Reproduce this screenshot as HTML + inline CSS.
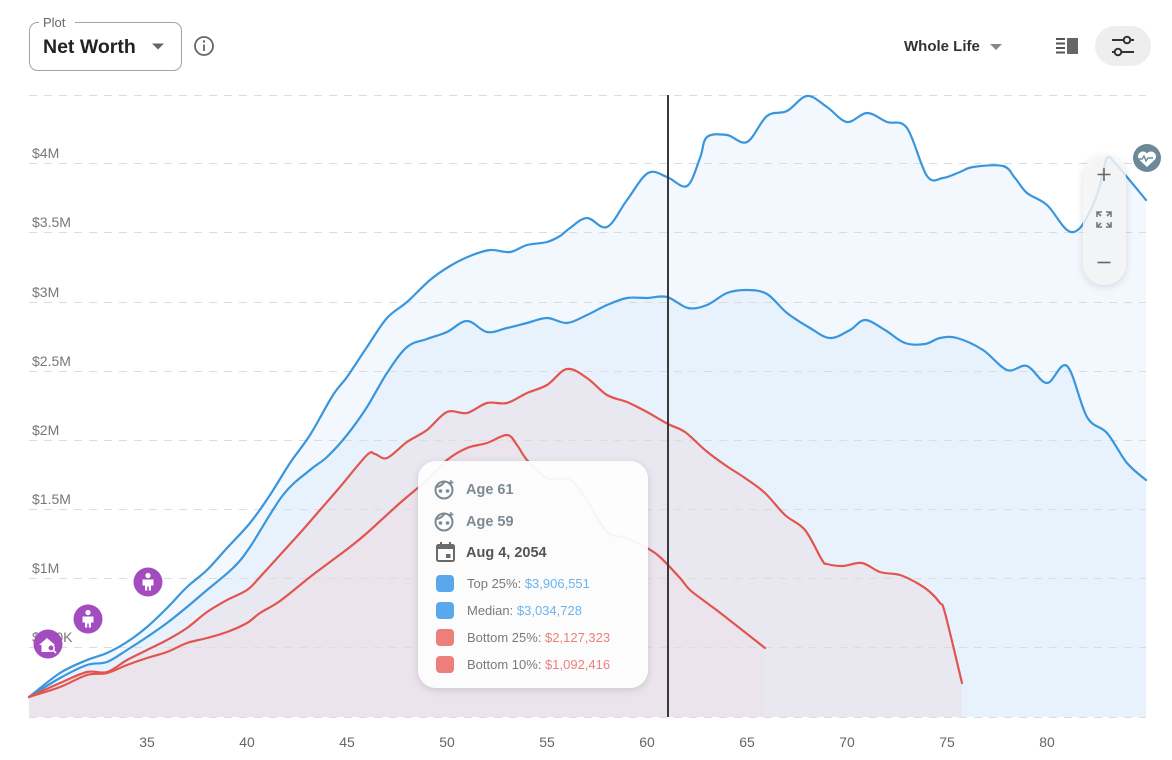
<!DOCTYPE html>
<html><head><meta charset="utf-8">
<style>
html,body{margin:0;padding:0;background:#fff;}
body{width:1172px;height:760px;overflow:hidden;font-family:"Liberation Sans",sans-serif;}
svg{display:block}
</style></head>
<body>
<svg id="chart" width="1172" height="760" viewBox="0 0 1172 760" xmlns="http://www.w3.org/2000/svg" font-family="Liberation Sans, sans-serif">
<defs>
<filter id="sh" x="-20%" y="-20%" width="140%" height="140%">
<feDropShadow dx="0" dy="2" stdDeviation="4" flood-color="#000" flood-opacity="0.15"/>
</filter>
</defs>

<!-- fills -->
<polygon class="sm" fill="#f2f8fe" points="29,717 29,697 60,673 87,660 107,653 127,642 147,627 167,608 187,587 207,570 227,548 250,523 270,495 290,463 310,435 333,395 347,377 367,347 387,318 407,302 430,280 450,266 470,256 490,250 510,252 527,245 547,242 560,236 570,228 587,218 607,227 627,200 648,173 667,177 687,186 700,158 707,137 727,135 747,142 767,116 787,111 807,96 827,107 847,122 867,113 887,122 907,128 927,176 943,178 960,172 973,167 1003,166 1015,178 1027,193 1047,205 1067,230 1080,228 1093,205 1100,185 1107,158 1115,163 1127,177 1146,200 1146,717"/>
<polygon class="sm" fill="#e8f2fd" points="29,717 29,697 60,678 87,665 107,662 127,650 147,637 167,623 187,607 207,590 233,568 250,547 283,495 310,470 327,457 347,435 367,407 387,373 407,347 427,339 447,332 467,321 487,332 507,328 527,323 547,318 567,323 587,315 607,305 627,298 647,298 667,297 688,308 707,305 727,293 747,290 767,294 787,313 810,328 830,338 850,330 865,320 885,330 905,343 925,344 940,338 957,338 983,350 1007,370 1027,366 1047,383 1067,366 1087,417 1107,433 1127,463 1146,480 1146,717"/>
<polygon class="sm" fill="#e9e8f1" points="29,717 29,697 60,683 87,672 107,672 127,660 147,650 167,640 187,628 207,612 227,600 247,590 260,577 280,555 300,533 320,510 340,487 367,455 375,454 387,458 407,442 427,430 447,412 467,413 487,403 507,403 527,393 547,385 567,369 587,378 607,395 627,402 647,412 668,424 685,432 705,450 725,465 745,478 765,493 785,515 805,530 822,560 827,564 843,566 862,563 880,572 900,575 917,583 930,592 940,603 945,613 962,683 962,717"/>
<polygon class="sm" fill="#ebe4ed" points="29,717 29,697 60,687 87,675 107,673 127,665 147,658 167,652 187,643 207,638 227,632 247,623 260,613 280,601 310,577 330,562 350,547 367,533 400,503 427,480 447,460 467,448 487,443 507,435 517,445 527,460 547,478 570,480 587,500 607,532 627,538 647,548 660,557 680,578 690,590 707,603 723,615 765,648 765,717"/>

<!-- grid -->
<g stroke="#dcdcdc" stroke-width="1" stroke-dasharray="8,7">
<line x1="29" y1="95.5" x2="1146" y2="95.5"/>
<line x1="29" y1="163.5" x2="1146" y2="163.5"/>
<line x1="29" y1="232.5" x2="1146" y2="232.5"/>
<line x1="29" y1="302.5" x2="1146" y2="302.5"/>
<line x1="29" y1="371.5" x2="1146" y2="371.5"/>
<line x1="29" y1="440.5" x2="1146" y2="440.5"/>
<line x1="29" y1="509.5" x2="1146" y2="509.5"/>
<line x1="29" y1="578.5" x2="1146" y2="578.5"/>
<line x1="29" y1="647.5" x2="1146" y2="647.5"/>
<line x1="29" y1="717.5" x2="1146" y2="717.5"/>
</g>

<!-- y labels -->
<g font-size="14" fill="#777">
<text x="32" y="158">$4M</text>
<text x="32" y="227">$3.5M</text>
<text x="32" y="297">$3M</text>
<text x="32" y="366">$2.5M</text>
<text x="32" y="435">$2M</text>
<text x="32" y="504">$1.5M</text>
<text x="32" y="573">$1M</text>
<text x="32" y="642">$500K</text>
</g>

<!-- lines -->
<g fill="none" stroke-width="2.2" stroke-linejoin="round" stroke-linecap="round">
<polyline class="sm" stroke="#3a96dc" points="29,697 60,673 87,660 107,653 127,642 147,627 167,608 187,587 207,570 227,548 250,523 270,495 290,463 310,435 333,395 347,377 367,347 387,318 407,302 430,280 450,266 470,256 490,250 510,252 527,245 547,242 560,236 570,228 587,218 607,227 627,200 648,173 667,177 687,186 700,158 707,137 727,135 747,142 767,116 787,111 807,96 827,107 847,122 867,113 887,122 907,128 927,176 943,178 960,172 973,167 1003,166 1015,178 1027,193 1047,205 1067,230 1080,228 1093,205 1100,185 1107,158 1115,163 1127,177 1146,200"/>
<polyline class="sm" stroke="#3a96dc" points="29,697 60,678 87,665 107,662 127,650 147,637 167,623 187,607 207,590 233,568 250,547 283,495 310,470 327,457 347,435 367,407 387,373 407,347 427,339 447,332 467,321 487,332 507,328 527,323 547,318 567,323 587,315 607,305 627,298 647,298 667,297 688,308 707,305 727,293 747,290 767,294 787,313 810,328 830,338 850,330 865,320 885,330 905,343 925,344 940,338 957,338 983,350 1007,370 1027,366 1047,383 1067,366 1087,417 1107,433 1127,463 1146,480"/>
<polyline class="sm" stroke="#e2554f" points="29,697 60,683 87,672 107,672 127,660 147,650 167,640 187,628 207,612 227,600 247,590 260,577 280,555 300,533 320,510 340,487 367,455 375,454 387,458 407,442 427,430 447,412 467,413 487,403 507,403 527,393 547,385 567,369 587,378 607,395 627,402 647,412 668,424 685,432 705,450 725,465 745,478 765,493 785,515 805,530 822,560 827,564 843,566 862,563 880,572 900,575 917,583 930,592 940,603 945,613 962,683"/>
<polyline class="sm" stroke="#e2554f" points="29,697 60,687 87,675 107,673 127,665 147,658 167,652 187,643 207,638 227,632 247,623 260,613 280,601 310,577 330,562 350,547 367,533 400,503 427,480 447,460 467,448 487,443 507,435 517,445 527,460 547,478 570,480 587,500 607,532 627,538 647,548 660,557 680,578 690,590 707,603 723,615 765,648"/>
</g>

<!-- vertical marker -->
<line x1="668" y1="95" x2="668" y2="717" stroke="#3a3a3a" stroke-width="2"/>

<!-- x labels -->
<g font-size="14" fill="#666" text-anchor="middle">
<text x="147" y="747">35</text>
<text x="247" y="747">40</text>
<text x="347" y="747">45</text>
<text x="447" y="747">50</text>
<text x="547" y="747">55</text>
<text x="647" y="747">60</text>
<text x="747" y="747">65</text>
<text x="847" y="747">70</text>
<text x="947" y="747">75</text>
<text x="1047" y="747">80</text>
</g>

<!-- purple event icons -->
<g>
<circle cx="148" cy="582" r="14.5" fill="#a34cc0"/>
<circle cx="148" cy="575.5" r="2.6" fill="#fff"/>
<path d="M142.5,579.5 h11 v6 h-2.5 v5 h-2.2 v-4 h-1.6 v4 h-2.2 v-5 h-2.5 z" fill="#fff"/>
<circle cx="88" cy="619" r="14.5" fill="#a34cc0"/>
<circle cx="88" cy="612.5" r="2.6" fill="#fff"/>
<path d="M82.5,616.5 h11 v6 h-2.5 v5 h-2.2 v-4 h-1.6 v4 h-2.2 v-5 h-2.5 z" fill="#fff"/>
<circle cx="48" cy="644" r="14.5" fill="#a34cc0"/>
<path d="M39,645 l8,-7 l8,7 h-2.5 v7 h-11 v-7 z" fill="#fff"/>
<circle cx="51" cy="648" r="3.2" fill="#a34cc0" stroke="#fff" stroke-width="1.5"/>
<line x1="53.3" y1="650.3" x2="56" y2="653" stroke="#fff" stroke-width="1.6"/>
</g>

<!-- tooltip -->
<g>
<rect x="418" y="461" width="230" height="227" rx="18" fill="#ffffff" fill-opacity="0.93" filter="url(#sh)"/>
<g stroke="#7b8a93" stroke-width="2" fill="none">
<circle cx="444" cy="490" r="8.5"/>
<path d="M437,487 q5,-1 8,-6"/>
<circle cx="440.5" cy="491" r="0.8" fill="#7b8a93"/>
<circle cx="447.5" cy="491" r="0.8" fill="#7b8a93"/>
<path d="M451,480 v5 M448.5,482.5 h5" stroke-width="1.5"/>
</g>
<g stroke="#7b8a93" stroke-width="2" fill="none">
<circle cx="444" cy="522" r="8.5"/>
<path d="M437,519 q5,-1 8,-6"/>
<circle cx="440.5" cy="523" r="0.8" fill="#7b8a93"/>
<circle cx="447.5" cy="523" r="0.8" fill="#7b8a93"/>
<path d="M451,512 v5 M448.5,514.5 h5" stroke-width="1.5"/>
</g>
<g font-size="14.5" font-weight="bold" fill="#7b8a93">
<text x="466" y="494">Age 61</text>
<text x="466" y="526">Age 59</text>
</g>
<g fill="#6a6a6a">
<rect x="437" y="545" width="17" height="16" rx="1.5" fill="none" stroke="#6a6a6a" stroke-width="2"/>
<rect x="437" y="545" width="17" height="4"/>
<rect x="440" y="542" width="2" height="4"/>
<rect x="449" y="542" width="2" height="4"/>
<rect x="446" y="554" width="4.5" height="4"/>
</g>
<text x="466" y="557" font-size="14.5" font-weight="bold" fill="#555">Aug 4, 2054</text>
<rect x="436" y="575" width="18" height="17" rx="4" fill="#5aa8ec"/>
<rect x="436" y="602" width="18" height="17" rx="4" fill="#5aa8ec"/>
<rect x="436" y="629" width="18" height="17" rx="4" fill="#ec7f79"/>
<rect x="436" y="656" width="18" height="17" rx="4" fill="#ec7f79"/>
<g font-size="13" fill="#7a7a7a">
<text x="467" y="588">Top 25%: <tspan fill="#6ab4ee">$3,906,551</tspan></text>
<text x="467" y="615">Median: <tspan fill="#6ab4ee">$3,034,728</tspan></text>
<text x="467" y="642">Bottom 25%: <tspan fill="#ea827c">$2,127,323</tspan></text>
<text x="467" y="669">Bottom 10%: <tspan fill="#ea827c">$1,092,416</tspan></text>
</g>
</g>

<!-- zoom control -->
<g>
<rect x="1083" y="155" width="43" height="130" rx="21.5" fill="#f6f6f7" fill-opacity="0.82" filter="url(#sh)"/>
<path d="M1104,168 v13 M1097.5,174.5 h13" stroke="#666" stroke-width="1.6"/>
<g stroke="#777" stroke-width="1.6" fill="none">
<path d="M1097,217 v-5 h5 M1097,212 l4,4"/>
<path d="M1111,217 v-5 h-5 M1111,212 l-4,4"/>
<path d="M1097,222 v5 h5 M1097,227 l4,-4"/>
<path d="M1111,222 v5 h-5 M1111,227 l-4,-4"/>
</g>
<path d="M1097.5,262.5 h13" stroke="#666" stroke-width="1.6"/>
</g>

<!-- heart icon -->
<g>
<circle cx="1147" cy="158" r="14" fill="#6d8997"/>
<path d="M1147,167 l-8,-7.5 a4.5,4.5 0 0 1 8,-6 a4.5,4.5 0 0 1 8,6 z" fill="#fff"/>
<path d="M1138,159 h4 l2,-3 l2,5 l2,-3 h5" stroke="#6d8997" stroke-width="1.4" fill="none"/>
</g>

<!-- header -->
<rect x="29.5" y="22.5" width="152" height="48" rx="8" fill="#fff" stroke="#a3a3a3" stroke-width="1"/>
<rect x="39" y="18" width="36" height="8" fill="#fff"/>
<text x="43" y="27" font-size="13" fill="#666">Plot</text>
<text x="43" y="53" font-size="19.5" font-weight="bold" fill="#222">Net Worth</text>
<polygon points="152,43.5 164,43.5 158,49.5" fill="#666"/>
<circle cx="204" cy="46" r="9" fill="none" stroke="#666" stroke-width="1.8"/>
<circle cx="204" cy="41.5" r="1.2" fill="#666"/>
<line x1="204" y1="44.5" x2="204" y2="51" stroke="#666" stroke-width="1.8"/>

<text x="904" y="51" font-size="15" font-weight="bold" fill="#333">Whole Life</text>
<polygon points="990,44 1002,44 996,50" fill="#888"/>
<g fill="#555">
<rect x="1056" y="38" width="9" height="2"/>
<rect x="1056" y="42.5" width="9" height="2"/>
<rect x="1056" y="47" width="9" height="2"/>
<rect x="1056" y="51.5" width="9" height="2"/>
<rect x="1067" y="38" width="11" height="16" fill="#666"/>
</g>
<rect x="1095" y="26" width="56" height="40" rx="20" fill="#eeeeee"/>
<g stroke="#333" stroke-width="2" fill="none">
<line x1="1112" y1="40" x2="1123.5" y2="40"/>
<line x1="1130.5" y1="40" x2="1134" y2="40"/>
<circle cx="1127" cy="40" r="3.3"/>
<line x1="1112" y1="52" x2="1114.5" y2="52"/>
<line x1="1121.5" y1="52" x2="1134" y2="52"/>
<circle cx="1118" cy="52" r="3.3"/>
</g>
</svg>
<script>
(function(){
  var NS="http://www.w3.org/2000/svg";
  function parse(s){return s.trim().split(/\s+/).map(function(p){var a=p.split(',');return [parseFloat(a[0]),parseFloat(a[1])];});}
  function curve(p){
    var d="";
    for(var i=0;i<p.length-1;i++){
      var p0=p[i>0?i-1:i],p1=p[i],p2=p[i+1],p3=p[i+2<p.length?i+2:i+1];
      var c1x=p1[0]+(p2[0]-p0[0])/6,c1y=p1[1]+(p2[1]-p0[1])/6;
      var c2x=p2[0]-(p3[0]-p1[0])/6,c2y=p2[1]-(p3[1]-p1[1])/6;
      d+=" C"+c1x.toFixed(2)+","+c1y.toFixed(2)+" "+c2x.toFixed(2)+","+c2y.toFixed(2)+" "+p2[0]+","+p2[1];
    }
    return d;
  }
  var els=document.querySelectorAll(".sm");
  for(var k=0;k<els.length;k++){
    var el=els[k];var pts=parse(el.getAttribute("points"));
    var path=document.createElementNS(NS,"path");
    var d;
    if(el.tagName.toLowerCase()==="polygon"){
      var inner=pts.slice(1,pts.length-1);
      d="M"+pts[0][0]+","+pts[0][1]+" L"+inner[0][0]+","+inner[0][1]+curve(inner)+" L"+pts[pts.length-1][0]+","+pts[pts.length-1][1]+" Z";
    } else {
      d="M"+pts[0][0]+","+pts[0][1]+curve(pts);
    }
    path.setAttribute("d",d);
    var attrs=["fill","stroke"];
    for(var j=0;j<attrs.length;j++){var v=el.getAttribute(attrs[j]);if(v)path.setAttribute(attrs[j],v);}
    el.parentNode.replaceChild(path,el);
  }
})();
</script>
</body></html>
